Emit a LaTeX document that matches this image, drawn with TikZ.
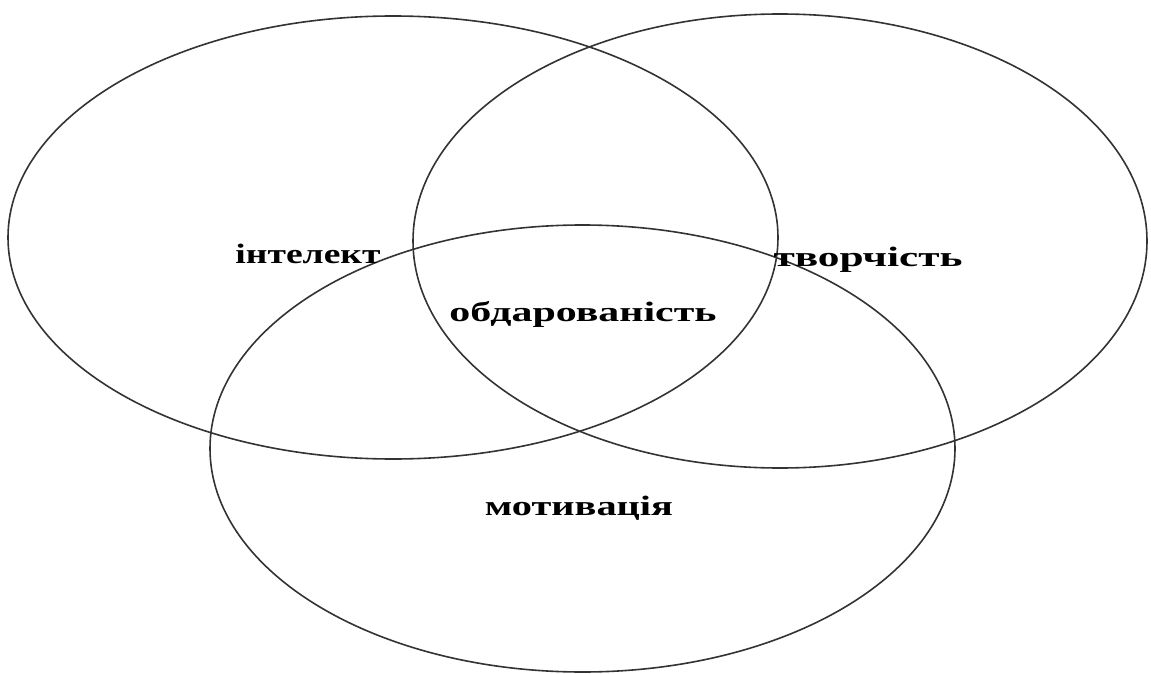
\documentclass[tikz,border=0pt]{standalone}
\usepackage{fontspec}
\setmainfont{Liberation Serif}
\usepackage{graphicx}
\tikzset{
  venn/.style={draw=black!80, line width=1.6pt},
  lbl/.style={anchor=base, inner sep=0pt, font=\bfseries\fontsize{28}{30}\selectfont}
}
\begin{document}
\begin{tikzpicture}[x=1pt,y=-1pt]
\useasboundingbox (0,0) rectangle (1151,674);
\draw[venn] (393,237.5) ellipse [x radius=385, y radius=221.5];
\draw[venn] (780,241) ellipse [x radius=367, y radius=227];
\draw[venn] (582.5,448.5) ellipse [x radius=372.5, y radius=223.5];
\node[lbl] (int) at (308,263) {\resizebox{145pt}{\height}{інтелект}};
\node[lbl] (tvo) at (868,266) {\resizebox{189pt}{\height}{творчість}};
\node[lbl] (obd) at (583,321) {\resizebox{267pt}{\height}{обдарованість}};
\node[lbl] (mot) at (579,515) {\resizebox{188pt}{\height}{мотивація}};
\end{tikzpicture}
\end{document}
